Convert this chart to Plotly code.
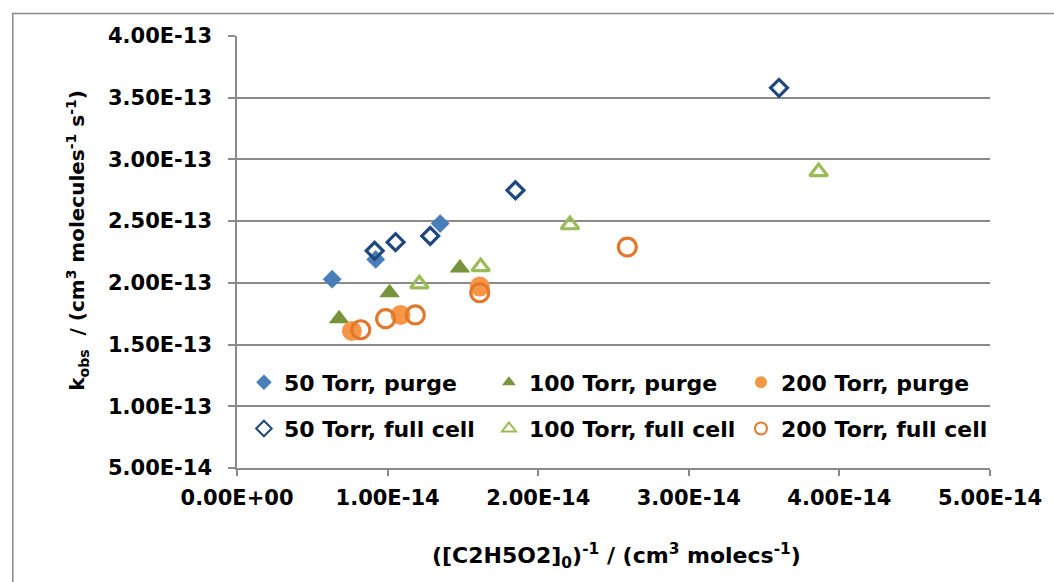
import plotly.graph_objects as go

# k_obs versus reciprocal initial C2H5O2 concentration
x_50_purge = [6.32e-15, 9.21e-15, 1.349e-14]
y_50_purge = [2.03e-13, 2.19e-13, 2.48e-13]

x_100_purge = [6.78e-15, 1.013e-14, 1.48e-14]
y_100_purge = [1.71e-13, 1.92e-13, 2.12e-13]

x_200_purge = [7.63e-15, 1.086e-14, 1.612e-14]
y_200_purge = [1.61e-13, 1.74e-13, 1.97e-13]

x_50_full = [9.14e-15, 1.053e-14, 1.283e-14, 1.849e-14, 3.599e-14]
y_50_full = [2.26e-13, 2.33e-13, 2.38e-13, 2.75e-13, 3.58e-13]

x_100_full = [1.211e-14, 1.618e-14, 2.211e-14, 3.862e-14]
y_100_full = [1.99e-13, 2.13e-13, 2.47e-13, 2.90e-13]

x_200_full = [8.22e-15, 9.87e-15, 1.184e-14, 1.612e-14, 2.592e-14]
y_200_full = [1.62e-13, 1.71e-13, 1.74e-13, 1.92e-13, 2.29e-13]

x_tick_vals = [0, 1e-14, 2e-14, 3e-14, 4e-14, 5e-14]
x_tick_text = ["0.00E+00", "1.00E-14", "2.00E-14", "3.00E-14", "4.00E-14", "5.00E-14"]
y_tick_vals = [5e-14, 1e-13, 1.5e-13, 2e-13, 2.5e-13, 3e-13, 3.5e-13, 4e-13]
y_tick_text = ["5.00E-14", "1.00E-13", "1.50E-13", "2.00E-13",
               "2.50E-13", "3.00E-13", "3.50E-13", "4.00E-13"]

FONT = "DejaVu Sans"
GRID = "#8a8a8a"

fig = go.Figure()

# (name, x, y, symbol, colour, size, outline width, legend id)
series = [
    ("50 Torr, purge", x_50_purge, y_50_purge, "diamond", "#4a7ebb", 14.5, 0, "legend"),
    ("100 Torr, purge", x_100_purge, y_100_purge, "triangle-up", "#77933c", 18, 0, "legend2"),
    ("200 Torr, purge", x_200_purge, y_200_purge, "circle", "#f79646", 20, 0, "legend3"),
    ("50 Torr, full cell", x_50_full, y_50_full, "diamond-open", "#1f497d", 13, 3.2, "legend4"),
    ("100 Torr, full cell", x_100_full, y_100_full, "triangle-up-open", "#9bbb59", 15.5, 3.2, "legend5"),
    ("200 Torr, full cell", x_200_full, y_200_full, "circle-open", "#e2782c", 18, 3.2, "legend6"),
]
for name, xs, ys, sym, col, size, lw, leg in series:
    fig.add_trace(go.Scatter(
        x=xs, y=ys, mode="markers", name=name, legend=leg,
        marker=dict(symbol=sym, size=size, color=col,
                    line=dict(width=lw, color=col)),
    ))

# one legend box per entry: three columns, two rows inside the plot area
legend_common = dict(
    orientation="h", font=dict(family=FONT, size=22, color="black", weight="bold"),
    bgcolor="rgba(0,0,0,0)", itemsizing="constant",
    xanchor="left", yanchor="middle",
    itemclick=False, itemdoubleclick=False,
)
col_x = [0.0092, 0.3346, 0.6693]
row_y = [0.198, 0.091]
legend_ids = ["legend", "legend2", "legend3", "legend4", "legend5", "legend6"]
legend_layout = {}
for i, lid in enumerate(legend_ids):
    legend_layout[lid] = dict(legend_common, x=col_x[i % 3], y=row_y[i // 3])

fig.update_layout(
    width=1054, height=582,
    margin=dict(l=237, r=58, t=36, b=114),
    paper_bgcolor="white", plot_bgcolor="white",
    font=dict(family=FONT, color="black"),
    showlegend=True,
    xaxis=dict(
        range=[0, 5e-14], tickvals=x_tick_vals, ticktext=x_tick_text,
        showgrid=False, zeroline=False, showline=True, linecolor=GRID, linewidth=1.5,
        ticks="outside", ticklen=6, tickcolor=GRID, tickwidth=1.5,
        tickfont=dict(family=FONT, size=21, weight="bold"), ticklabelstandoff=4,
    ),
    yaxis=dict(
        range=[5e-14, 4e-13], tickvals=y_tick_vals, ticktext=y_tick_text,
        showgrid=True, gridcolor=GRID, gridwidth=1.5, zeroline=False,
        showline=True, linecolor=GRID, linewidth=1.5,
        ticks="outside", ticklen=7, tickcolor=GRID, tickwidth=1.5,
        tickfont=dict(family=FONT, size=21, weight="bold"), ticklabelstandoff=12,
    ),
    annotations=[
        dict(
            text="k<sub>obs</sub>  / (cm<sup>3</sup> molecules<sup>-1</sup> s<sup>-1</sup>)",
            xref="paper", yref="paper", x=-0.212, y=0.527, textangle=-90,
            showarrow=False, xanchor="center", yanchor="middle",
            font=dict(family=FONT, size=20, weight="bold"),
        ),
        dict(
            text="([C2H5O2]<sub>0</sub>)<sup>-1</sup> / (cm<sup>3</sup> molecs<sup>-1</sup>)",
            xref="paper", yref="paper", x=0.504, y=-0.203,
            showarrow=False, xanchor="center", yanchor="middle",
            font=dict(family=FONT, size=22, weight="bold"),
        ),
    ],
    shapes=[
        dict(type="rect", xref="paper", yref="paper",
             x0=-0.2978, x1=1.1, y0=-0.35, y1=1.052,
             line=dict(color="#8a8a8a", width=1.5), fillcolor="rgba(0,0,0,0)",
             layer="below"),
    ],
    **legend_layout,
)

fig.write_html("out.html")
